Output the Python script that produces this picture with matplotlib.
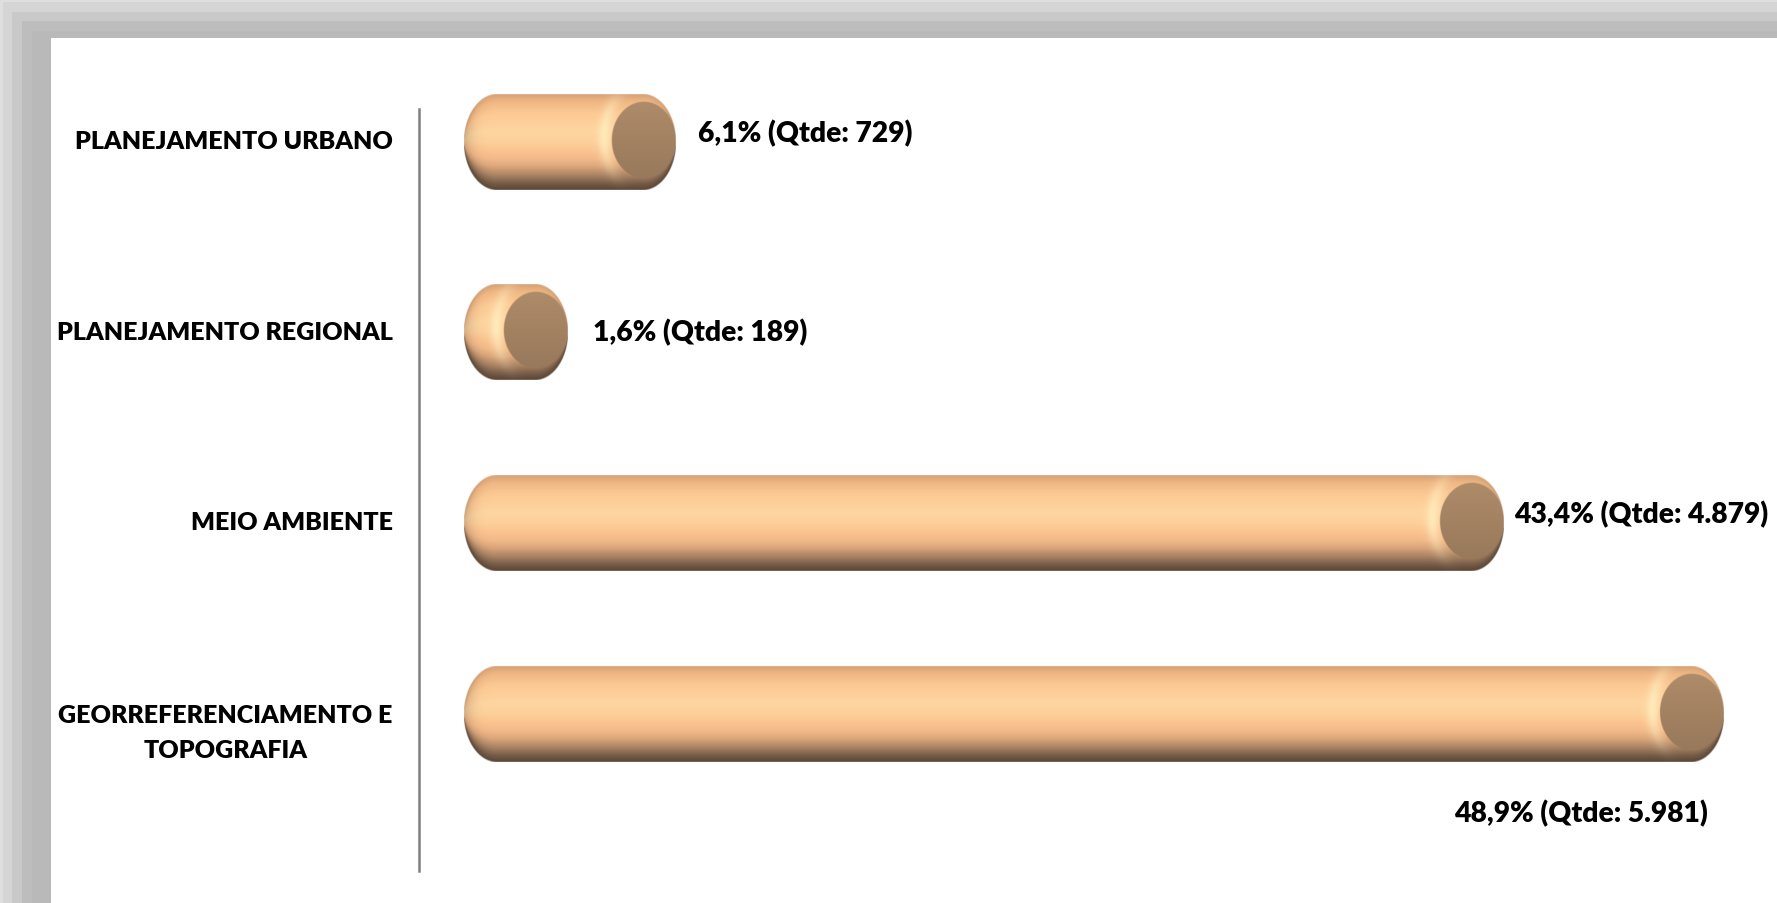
import numpy as np
import matplotlib
matplotlib.use('Agg')
import matplotlib.pyplot as plt
from matplotlib.colors import LinearSegmentedColormap, to_rgb
from matplotlib.patches import Rectangle
from matplotlib.transforms import ScaledTranslation

# dados
categorias = ['PLANEJAMENTO URBANO', 'PLANEJAMENTO REGIONAL', 'MEIO AMBIENTE',
              'GEORREFERENCIAMENTO E\nTOPOGRAFIA']
qtde = [729, 189, 4879, 5981]
pct = ['6,1%', '1,6%', '43,4%', '48,9%']
qtde_txt = ['729', '189', '4.879', '5.981']

plt.rcParams['font.family'] = ['Lato', 'DejaVu Sans']

W, H = 1777, 904
fig = plt.figure(figsize=(W / 100, H / 100), dpi=100)
fig.patch.set_facecolor('white')

# moldura cinza (sombra) a esquerda e no topo
faixas_x = [0, 3, 12, 22, 32]
faixas_y = [0, 3, 13, 22, 32]
cores_faixa = ['#dfdfdf', '#d5d5d5', '#c9c9c9', '#bdbdbd', '#b9b9b9']
for fx, fy, c in zip(faixas_x, faixas_y, cores_faixa):
    fig.patches.append(Rectangle((fx / W, 0), 1, 1 - fy / H, transform=fig.transFigure,
                                 facecolor=c, edgecolor='none', zorder=-5))
fig.patches.append(Rectangle((51 / W, 0), 1, 1 - 39 / H, transform=fig.transFigure,
                             facecolor='white', edgecolor='none', zorder=-4))

ax_l, ax_b, ax_t = 419, 872, 110
ax = fig.add_axes([ax_l / W, 1 - ax_b / H, 1 - ax_l / W, (ax_b - ax_t) / H])
ax.patch.set_alpha(0)
xlim = (-393, 6410)
ylim = (3.823, -0.173)
ax.set_xlim(*xlim)
ax.set_ylim(*ylim)

sx = (W - ax_l) / (xlim[1] - xlim[0])      # px por unidade x
sy = (ax_b - ax_t) / (ylim[0] - ylim[1])   # px por categoria

perfil = LinearSegmentedColormap.from_list('cil', [
    (0.00, '#d6a176'), (0.08, '#efb783'), (0.20, '#fcc994'), (0.38, '#fed5a0'),
    (0.50, '#fdd09b'), (0.58, '#fcc591'), (0.68, '#f2b988'), (0.76, '#d9a57a'),
    (0.85, '#a88262'), (0.94, '#735a46'), (1.00, '#5a4434')])

cap_px = 33.0
meia_alt = 0.25
ss = 2


def cilindro(valor):
    wpx = valor * sx + 2 * cap_px
    hpx = 2 * meia_alt * sy
    nx, ny = int(wpx * ss), int(hpx * ss)
    xs = (np.arange(nx) + 0.5) / nx * wpx
    ys = (np.arange(ny) + 0.5) / ny * hpx
    X, Y = np.meshgrid(xs, ys)
    b = hpx / 2
    v = (Y - b) / b
    u = np.zeros_like(X)
    esq = X < cap_px
    dir_ = X > wpx - cap_px
    u[esq] = (X[esq] - cap_px) / cap_px
    u[dir_] = (X[dir_] - (wpx - cap_px)) / cap_px
    rr = np.sqrt(u ** 2 + v ** 2)
    alpha = np.clip((1 - rr) * min(cap_px, b) + 0.5, 0, 1)
    veff = np.clip(v / np.sqrt(np.clip(1 - u ** 2, 1e-4, None)), -1, 1)
    rgb = perfil((veff + 1) / 2)[..., :3]
    rgb *= (1 - 0.18 * np.abs(u) ** 4)[..., None]

    # brilho na borda da face direita
    fxc, fyc = wpx - cap_px + 1, b - 2
    fa, fb = cap_px - 1, 38.0
    rf = np.sqrt(((X - fxc) / fa) ** 2 + ((Y - fyc) / fb) ** 2)
    rf2 = np.sqrt(((X - fxc) / fa) ** 2 + ((Y - fyc + 2) / (fb * 1.12)) ** 2)
    cosang = np.clip((fxc - X) / (fa * np.maximum(rf2, 1e-3)), 0, 1)
    wh = np.exp(-((rf2 - 1.24) / 0.19) ** 2) * cosang ** 3 * (rf > 1)
    wh *= np.clip(1.0 - 0.7 * np.clip(v, 0, 1), 0, 1)
    hl = np.array(to_rgb('#fff0c2'))
    rgb = rgb * (1 - 0.75 * wh[..., None]) + hl * 0.75 * wh[..., None]

    # face plana
    face = np.array(to_rgb('#a38262'))
    face_img = face * (1 - 0.07 * ((Y - fyc) / fb))[..., None]
    wf = np.clip((1 - rf) * min(fa, fb) + 0.5, 0, 1)[..., None]
    rgb = rgb * (1 - wf) + face_img * wf
    return np.dstack([np.clip(rgb, 0, 1), alpha])


for i, q in enumerate(qtde):
    img = cilindro(q)
    cx = cap_px / sx
    ax.imshow(img, extent=(-cx, q + cx, i + meia_alt, i - meia_alt),
              origin='upper', aspect='auto', interpolation='antialiased',
              zorder=2, clip_on=False)

ax.set_xlim(*xlim)
ax.set_ylim(*ylim)

for s in ['top', 'right', 'bottom']:
    ax.spines[s].set_visible(False)
ax.spines['left'].set_color('#808080')
ax.spines['left'].set_linewidth(1.8)
ax.set_xticks([])
ax.set_yticks(range(len(categorias)))
ax.set_yticklabels(categorias, fontsize=18, fontweight='heavy', linespacing=1.7)
ax.tick_params(axis='y', length=0, pad=19)
for k, lab in enumerate(ax.get_yticklabels()):
    lab.set_multialignment('center')
    dy = 0.03 if k < 3 else -0.10
    lab.set_transform(lab.get_transform() + ScaledTranslation(0, dy, fig.dpi_scale_trans))

# rotulos de valor (deslocamentos em pixels)
desloc = [(55, 9), (58, 1), (43, 10), (-110, -99)]
alinh = ['left', 'left', 'left', 'center']
for i, q in enumerate(qtde):
    ax.annotate(f'{pct[i]} (Qtde: {qtde_txt[i]})', xy=(q, i), xytext=desloc[i],
                textcoords='offset pixels', ha=alinh[i], va='center',
                fontsize=20.3, fontweight='heavy', color='black', zorder=3,
                annotation_clip=False)

fig.savefig('out.png', dpi=100)
